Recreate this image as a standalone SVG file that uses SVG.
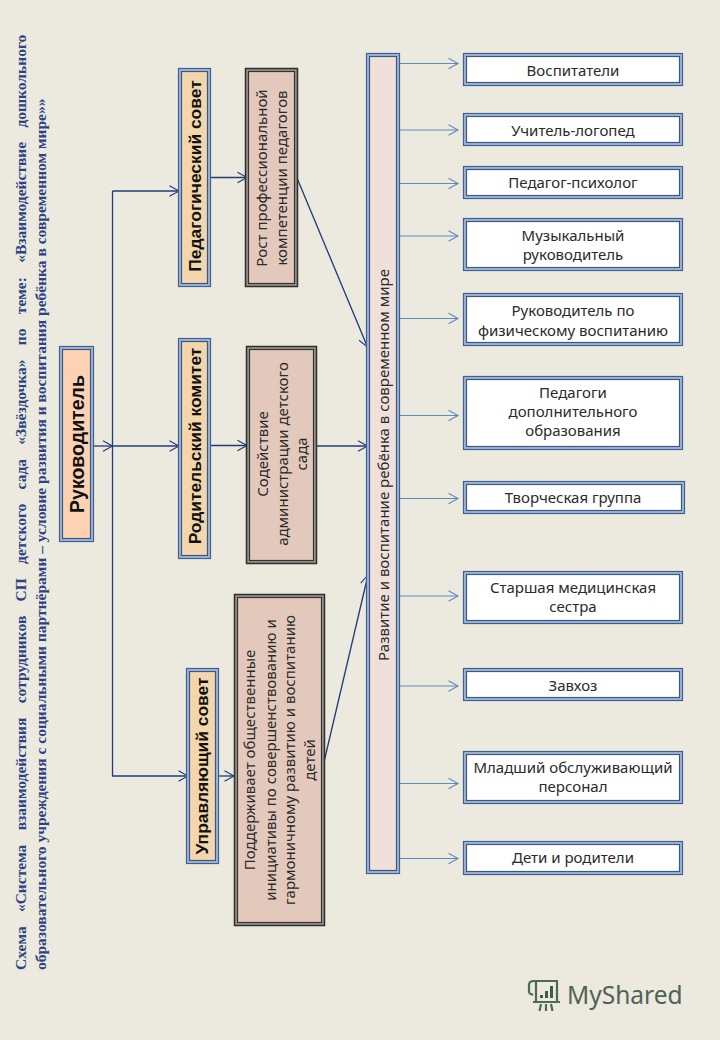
<svg xmlns="http://www.w3.org/2000/svg" width="720" height="1040" viewBox="0 0 720 1040">
<style>
text{font-family:"Noto Sans","DejaVu Sans",sans-serif;fill:#2a2a2a;text-anchor:middle}
.o{stroke-width:1.2}
.b .o{fill:#a3b8d4;stroke:#3f6093}
.k .o{fill:#9a958c;stroke:#2f2f2f;stroke-width:1.5}
.i{stroke-width:1.2}
.b .i{stroke:#3a5685}
.k .i{stroke:#333}
.p{fill:#f3d6ab}
.r{fill:#fdd2b3}
.c{fill:#e2c9bb}
.w{fill:#fff}
.m{fill:#efe0da}
.bold{font-family:"Liberation Sans",Arial,sans-serif;font-weight:bold;fill:#111;font-size:17.4px}
.t{font-size:15px}
.title{font-family:"Liberation Serif",serif;font-weight:bold;fill:#2b4384;font-size:15.5px;text-anchor:start}
.d{fill:none;stroke:#1f3b78;stroke-width:1.3}
.l{fill:none;stroke:#5f8ac0;stroke-width:1.2}
</style>
<defs>
<marker id="ad" markerUnits="userSpaceOnUse" markerWidth="14" markerHeight="14" refX="11" refY="7" orient="auto"><path d="M1.500 1.800L11 7L1.500 12.200" fill="none" stroke="#1f3b78" stroke-width="1.1"/></marker>
<marker id="al" markerUnits="userSpaceOnUse" markerWidth="14" markerHeight="14" refX="11" refY="7" orient="auto"><path d="M1.500 1.800L11 7L1.500 12.200" fill="none" stroke="#5f8ac0" stroke-width="1.1"/></marker>
</defs>
<rect width="720" height="1040" fill="#ece9df"/>
<g id="title">
<text class="title" transform="translate(26 970) rotate(-90)" word-spacing="10.4">Схема «Система взаимодействия сотрудников СП детского сада «Звёздочка» по теме: «Взаимодействие дошкольного</text>
<text class="title" transform="translate(46 970) rotate(-90)">образовательного учреждения с социальными партнёрами – условие развития и воспитания ребёнка в современном мире»»</text>
</g>
<g id="connectors">
<path class="d" d="M94 446H112.500" marker-end="url(#ad)"/>
<path class="d" d="M112.500 446H179" marker-end="url(#ad)"/>
<path class="d" d="M112.500 191H179" marker-end="url(#ad)"/>
<path class="d" d="M112.500 191V776H188" marker-end="url(#ad)"/>
<path class="d" d="M211 177.500H247" marker-end="url(#ad)"/>
<path class="d" d="M211 445.500H247" marker-end="url(#ad)"/>
<path class="d" d="M219 776H234" marker-end="url(#ad)"/>
<path class="d" d="M297 178L367.500 347" marker-end="url(#ad)"/>
<path class="d" d="M317 446H367.500" marker-end="url(#ad)"/>
<path class="d" d="M324 762L368 575" marker-end="url(#ad)"/>
<path class="l" d="M400 63.500H458" marker-end="url(#al)"/>
<path class="l" d="M400 130H458" marker-end="url(#al)"/>
<path class="l" d="M400 183.500H458" marker-end="url(#al)"/>
<path class="l" d="M400 236H458" marker-end="url(#al)"/>
<path class="l" d="M400 318.500H458" marker-end="url(#al)"/>
<path class="l" d="M400 415.500H458" marker-end="url(#al)"/>
<path class="l" d="M400 498.500H458" marker-end="url(#al)"/>
<path class="l" d="M400 596H458" marker-end="url(#al)"/>
<path class="l" d="M400 686H458" marker-end="url(#al)"/>
<path class="l" d="M400 783.500H458" marker-end="url(#al)"/>
<path class="l" d="M400 858.500H458" marker-end="url(#al)"/>
</g>
<g id="rukovoditel" class="b"><rect class="o" x="59.500" y="346.500" width="34" height="195"/><rect class="i r" x="62.500" y="349.500" width="28" height="189"/><text class="bold" style="font-size:19.500px" transform="translate(84 444) rotate(-90)">Руководитель</text></g>
<g id="pedsovet" class="b"><rect class="o" x="178.500" y="68.500" width="32" height="218"/><rect class="i p" x="181.500" y="71.500" width="26" height="212"/><text class="bold" transform="translate(201 176) rotate(-90)">Педагогический совет</text></g>
<g id="rodkom" class="b"><rect class="o" x="178.500" y="338.500" width="32" height="220"/><rect class="i p" x="181.500" y="341.500" width="26" height="214"/><text class="bold" transform="translate(201 446) rotate(-90)">Родительский комитет</text></g>
<g id="upravsovet" class="b"><rect class="o" x="186.500" y="668.500" width="32" height="195"/><rect class="i p" x="189.500" y="671.500" width="26" height="189"/><text class="bold" transform="translate(208 766) rotate(-90)">Управляющий совет</text></g>
<g id="rost" class="k"><rect class="o" x="245.500" y="68.500" width="52" height="218"/><rect class="i c" x="248.500" y="71.500" width="46" height="212"/><text class="t" transform="translate(267 178) rotate(-90)">Рост профессиональной</text><text class="t" transform="translate(287 178) rotate(-90)">компетенции педагогов</text></g>
<g id="sodeistvie" class="k"><rect class="o" x="246.500" y="346.500" width="70" height="217"/><rect class="i c" x="249.500" y="349.500" width="64" height="211"/><text class="t" transform="translate(268 454) rotate(-90)">Содействие</text><text class="t" transform="translate(288 454) rotate(-90)">администрации детского</text><text class="t" transform="translate(307 454) rotate(-90)">сада</text></g>
<g id="podderzhivaet" class="k"><rect class="o" x="234.500" y="594.500" width="90" height="331"/><rect class="i c" x="237.500" y="597.500" width="84" height="325"/><text class="t" transform="translate(255 760) rotate(-90)">Поддерживает общественные</text><text class="t" transform="translate(276 760) rotate(-90)">инициативы по совершенствованию и</text><text class="t" transform="translate(295 760) rotate(-90)">гармоничному развитию и воспитанию</text><text class="t" transform="translate(315 760) rotate(-90)">детей</text></g>
<g id="center" class="b"><rect class="o" x="366.500" y="53.500" width="33" height="820"/><rect class="i m" x="369.500" y="56.500" width="27" height="814"/><text class="t" transform="translate(389 465) rotate(-90)">Развитие и воспитание ребёнка в современном мире</text></g>
<g id="n1" class="b"><rect class="o" x="463.500" y="53.500" width="219" height="32"/><rect class="i w" x="466.500" y="56.500" width="213" height="26"/><text class="t" x="573" y="76">Воспитатели</text></g>
<g id="n2" class="b"><rect class="o" x="463.500" y="113.500" width="219" height="32"/><rect class="i w" x="466.500" y="116.500" width="213" height="26"/><text class="t" x="573" y="136">Учитель-логопед</text></g>
<g id="n3" class="b"><rect class="o" x="463.500" y="166.500" width="219" height="32"/><rect class="i w" x="466.500" y="169.500" width="213" height="26"/><text class="t" x="573" y="188">Педагог-психолог</text></g>
<g id="n4" class="b"><rect class="o" x="463.500" y="218.500" width="219" height="52"/><rect class="i w" x="466.500" y="221.500" width="213" height="46"/><text class="t" x="573" y="241">Музыкальный</text><text class="t" x="573" y="260">руководитель</text></g>
<g id="n5" class="b"><rect class="o" x="463.500" y="293.500" width="219" height="52"/><rect class="i w" x="466.500" y="296.500" width="213" height="46"/><text class="t" x="573" y="316">Руководитель по</text><text class="t" x="573" y="336">физическому воспитанию</text></g>
<g id="n6" class="b"><rect class="o" x="463.500" y="376.500" width="219" height="73"/><rect class="i w" x="466.500" y="379.500" width="213" height="67"/><text class="t" x="573" y="398">Педагоги</text><text class="t" x="573" y="417">дополнительного</text><text class="t" x="573" y="436">образования</text></g>
<g id="n7" class="b"><rect class="o" x="463.500" y="481.500" width="221" height="32"/><rect class="i w" x="466.500" y="484.500" width="215" height="26"/><text class="t" x="573" y="503">Творческая группа</text></g>
<g id="n8" class="b"><rect class="o" x="463.500" y="571.500" width="219" height="52"/><rect class="i w" x="466.500" y="574.500" width="213" height="46"/><text class="t" x="573" y="593">Старшая медицинская</text><text class="t" x="573" y="612">сестра</text></g>
<g id="n9" class="b"><rect class="o" x="463.500" y="668.500" width="219" height="32"/><rect class="i w" x="466.500" y="671.500" width="213" height="26"/><text class="t" x="573" y="691">Завхоз</text></g>
<g id="n10" class="b"><rect class="o" x="463.500" y="751.500" width="219" height="52"/><rect class="i w" x="466.500" y="754.500" width="213" height="46"/><text class="t" x="573" y="773">Младший обслуживающий</text><text class="t" x="573" y="792">персонал</text></g>
<g id="n11" class="b"><rect class="o" x="463.500" y="841.500" width="219" height="33"/><rect class="i w" x="466.500" y="844.500" width="213" height="27"/><text class="t" x="573" y="863">Дети и родители</text></g>
<g id="logo">
<path d="M534 981h24M536 981v20M557 981v20M533 1002h27M534 981c-4 0-5 2-5 4v8M529 993l4 2M541 1004l-1.500 7M546 1004v7M551 1004l1.500 7" fill="none" stroke="#4c6b55" stroke-width="2.200"/>
<path d="M540 995h3v3h-3zM545 991h3v7h-3zM550 986h3v12h-3z" fill="#3f5c48"/>
<text x="567" y="1004" style="text-anchor:start;font-family:'Noto Sans',sans-serif;font-size:24.500px;fill:#4f6355">MyShared</text>
</g>
</svg>
